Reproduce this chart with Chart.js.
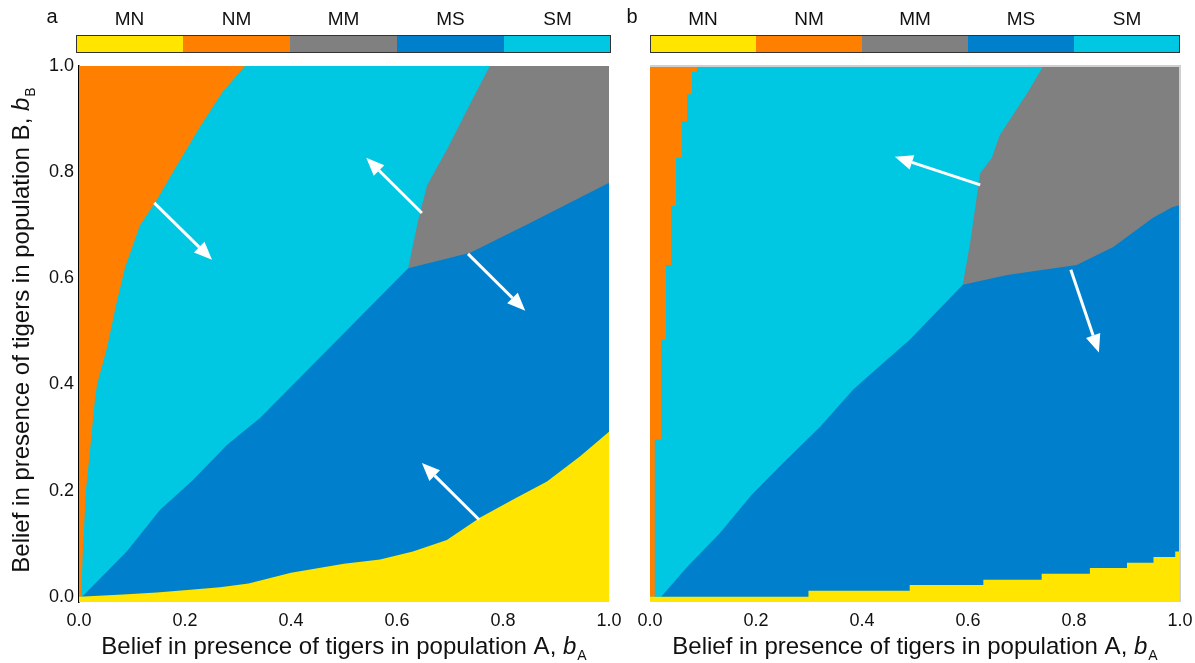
<!DOCTYPE html>
<html>
<head>
<meta charset="utf-8">
<script src="https://cdn.jsdelivr.net/npm/chart.js@4.4.1/dist/chart.umd.min.js"></script>
<style>
html, body { margin: 0; padding: 0; background: #fff; }
#wrap { position: relative; width: 1195px; height: 663px; }
#boxA { position: absolute; left: 0; top: 0; width: 636px; height: 663px; z-index: 2; }
#boxB { position: absolute; left: 620px; top: 0; width: 575px; height: 663px; z-index: 1; }
</style>
</head>
<body>
<div id="wrap">
  <div id="boxA"><canvas id="chartA"></canvas></div>
  <div id="boxB"><canvas id="chartB"></canvas></div>
</div>
<script>
const fontFamily = "'Liberation Sans', Arial, Helvetica, sans-serif";

// axis ticks (both axes, both panels)
const tickValues = [0, 0.2, 0.4, 0.6, 0.8, 1.0];
const tickLabels = ['0.0', '0.2', '0.4', '0.6', '0.8', '1.0'];

// policies shown in the colour bar
const policyNames = ['MN', 'NM', 'MM', 'MS', 'SM'];
const policyColors = ['#FFE500', '#FF8000', '#808080', '#0080CC', '#00C8E2'];

// panel a - region boundaries, x = b_A, y = b_B
// top edge of MN (yellow)
const aMnX = [0, 0.083, 0.147, 0.21, 0.266, 0.32, 0.4, 0.5, 0.568, 0.63, 0.694, 0.757, 0.819, 0.883, 0.945, 1.0];
const aMnY = [0, 0.004, 0.008, 0.013, 0.018, 0.025, 0.045, 0.062, 0.07, 0.085, 0.107, 0.149, 0.183, 0.217, 0.264, 0.311];
// lower edge of NM (orange)
const aNmX = [0, 0.004, 0.007, 0.013, 0.019, 0.03, 0.034, 0.053, 0.07, 0.087, 0.115, 0.147, 0.177, 0.228, 0.27, 0.313];
const aNmY = [0, 0, 0.079, 0.2, 0.258, 0.371, 0.4, 0.47, 0.55, 0.621, 0.7, 0.748, 0.8, 0.885, 0.95, 1.0];
// top edge of MS (dark blue)
const aMsX = [0, 0.006, 0.09, 0.153, 0.215, 0.279, 0.342, 0.621, 0.738, 0.851, 1.0];
const aMsY = [0, 0, 0.085, 0.164, 0.22, 0.286, 0.337, 0.619, 0.648, 0.704, 0.78];
// left edge of MM (grey)
const aMmX = [0.621, 0.64, 0.657, 0.694, 0.732, 0.775, 1.0];
const aMmY = [0.619, 0.71, 0.776, 0.842, 0.917, 1.0, 1.0];
// arrows [fromX, fromY, toX, toY]
const aArrows = [
  [0.142, 0.742, 0.251, 0.635],
  [0.647, 0.723, 0.542, 0.827],
  [0.734, 0.646, 0.842, 0.539],
  [0.755, 0.145, 0.647, 0.252]
];

// panel b - region boundaries
const bMnX = [0, 0.299, 0.49, 0.629, 0.739, 0.83, 0.90, 0.95, 0.991, 1.0];
const bMnY = [0, 0.011, 0.022, 0.032, 0.043, 0.054, 0.064, 0.075, 0.085, 0.085];
const bNmX = [0, 0.009, 0.021, 0.030, 0.040, 0.049, 0.060, 0.070, 0.079, 0.089];
const bNmY = [0, 0.296, 0.484, 0.625, 0.736, 0.827, 0.896, 0.947, 0.989, 1.0];
const bMsX = [0, 0.021, 0.07, 0.132, 0.192, 0.251, 0.321, 0.383, 0.443, 0.49, 0.59, 0.674, 0.742, 0.805, 0.874, 0.949, 0.985, 1.0];
const bMsY = [0, 0, 0.056, 0.12, 0.192, 0.252, 0.32, 0.39, 0.443, 0.484, 0.588, 0.606, 0.616, 0.625, 0.659, 0.714, 0.734, 0.738];
const bMmX = [0.59, 0.604, 0.613, 0.623, 0.645, 0.66, 0.685, 0.713, 0.742, 1.0];
const bMmY = [0.588, 0.667, 0.729, 0.798, 0.827, 0.87, 0.908, 0.951, 1.0, 1.0];
const bArrows = [
  [0.623, 0.776, 0.462, 0.829],
  [0.794, 0.616, 0.847, 0.46]
];

// SM (cyan) fills the whole square underneath
const smX = [0, 1];
const smY = [1, 1];

function pts(xs, ys) {
  return xs.map((x, i) => ({ x: x, y: ys[i] }));
}

function regionSets(p) {
  const base = { borderWidth: 0, pointRadius: 0, tension: 0 };
  return [
    Object.assign({ label: 'MN', data: pts(p.mnX, p.mnY), backgroundColor: policyColors[0], fill: 'start', stepped: p.stepped }, base),
    Object.assign({ label: 'NM', data: pts(p.nmX, p.nmY), backgroundColor: policyColors[1], fill: 'end', stepped: p.stepped }, base),
    Object.assign({ label: 'MS', data: pts(p.msX, p.msY), backgroundColor: policyColors[3], fill: 'start' }, base),
    Object.assign({ label: 'MM', data: pts(p.mmX, p.mmY), backgroundColor: policyColors[2], fill: 'start' }, base),
    Object.assign({ label: 'SM', data: pts(smX, smY), backgroundColor: policyColors[4], fill: 'start' }, base)
  ];
}

function drawArrow(ctx, x0, y0, x1, y1) {
  const ang = Math.atan2(y1 - y0, x1 - x0);
  const headLen = 18, headHalf = 7.5;
  const bx = x1 - headLen * Math.cos(ang), by = y1 - headLen * Math.sin(ang);
  ctx.strokeStyle = '#fff';
  ctx.fillStyle = '#fff';
  ctx.lineWidth = 3;
  ctx.beginPath();
  ctx.moveTo(x0, y0);
  ctx.lineTo(bx, by);
  ctx.stroke();
  ctx.beginPath();
  ctx.moveTo(x1, y1);
  ctx.lineTo(bx + headHalf * Math.sin(ang), by - headHalf * Math.cos(ang));
  ctx.lineTo(bx - headHalf * Math.sin(ang), by + headHalf * Math.cos(ang));
  ctx.closePath();
  ctx.fill();
}

function drawColorbar(ctx, left, right) {
  const top = 35, h = 18;
  const w = (right - left) / policyNames.length;
  ctx.textAlign = 'center';
  ctx.textBaseline = 'middle';
  ctx.font = '19px ' + fontFamily;
  policyNames.forEach((name, i) => {
    ctx.fillStyle = policyColors[i];
    ctx.fillRect(left + i * w, top, w, h);
    ctx.fillStyle = '#111';
    ctx.fillText(name, left + (i + 0.5) * w, 20);
  });
  ctx.strokeStyle = '#333';
  ctx.lineWidth = 1;
  ctx.strokeRect(left + 0.5, top + 0.5, right - left - 1, h - 1);
}

function drawBelief(ctx, cx, cy, pop, rotated) {
  ctx.save();
  ctx.translate(cx, cy);
  if (rotated) ctx.rotate(-Math.PI / 2);
  const main = 'Belief in presence of tigers in population ' + pop + ', ';
  const fMain = '24px ' + fontFamily;
  const fIt = 'italic 24px ' + fontFamily;
  const fSub = '14px ' + fontFamily;
  ctx.font = fMain; const w1 = ctx.measureText(main).width;
  ctx.font = fIt; const w2 = ctx.measureText('b').width;
  ctx.font = fSub; const w3 = ctx.measureText(pop).width;
  let x = -(w1 + w2 + w3 + 1) / 2;
  ctx.fillStyle = '#111';
  ctx.textAlign = 'left';
  ctx.textBaseline = 'middle';
  ctx.font = fMain; ctx.fillText(main, x, 0); x += w1;
  ctx.font = fIt; ctx.fillText('b', x, 0); x += w2 + 1;
  ctx.font = fSub; ctx.fillText(pop, x, 9);
  ctx.restore();
}

function makePanel(canvasId, p) {
  const decor = {
    id: 'decor_' + canvasId,
    afterDatasetsDraw(chart) {
      const ctx = chart.ctx;
      const xs = chart.scales.x, ys = chart.scales.y;
      ctx.save();
      p.arrows.forEach(a => {
        drawArrow(ctx, xs.getPixelForValue(a[0]), ys.getPixelForValue(a[1]),
                       xs.getPixelForValue(a[2]), ys.getPixelForValue(a[3]));
      });
      ctx.restore();
    },
    afterDraw(chart) {
      const ctx = chart.ctx;
      const ca = chart.chartArea;
      ctx.save();
      if (p.frame) {
        ctx.strokeStyle = '#cfcfcf';
        ctx.lineWidth = 2;
        ctx.beginPath();
        ctx.moveTo(ca.left, ca.top);
        ctx.lineTo(ca.right, ca.top);
        ctx.lineTo(ca.right, ca.bottom);
        ctx.stroke();
      }
      drawColorbar(ctx, ca.left + p.cbPad[0], ca.right + p.cbPad[1]);
      ctx.fillStyle = '#111';
      ctx.font = '20px ' + fontFamily;
      ctx.textAlign = 'center';
      ctx.textBaseline = 'middle';
      ctx.fillText(p.letter, ca.left + p.letterDx, 17);
      drawBelief(ctx, (ca.left + ca.right) / 2, 647, 'A', false);
      if (p.yTitle) drawBelief(ctx, 22, (ca.top + ca.bottom) / 2 - 4, 'B', true);
      ctx.restore();
    }
  };

  const tickFont = { family: fontFamily, size: 18 };
  return new Chart(document.getElementById(canvasId), {
    type: 'line',
    data: { datasets: regionSets(p) },
    options: {
      responsive: true,
      maintainAspectRatio: false,
      animation: false,
      layout: { padding: p.padding },
      plugins: { legend: { display: false }, tooltip: { enabled: false } },
      scales: {
        x: {
          type: 'linear', min: 0, max: 1,
          grid: { display: false, drawTicks: false },
          border: { display: false },
          afterBuildTicks: s => { s.ticks = tickValues.map(v => ({ value: v })); },
          afterFit: s => { s.height = 61; s.paddingLeft = 0; s.paddingRight = 0; },
          ticks: {
            padding: 8, autoSkip: false, maxRotation: 0, color: '#111', font: tickFont,
            callback: v => tickLabels[tickValues.indexOf(v)]
          }
        },
        y: {
          type: 'linear', min: -0.01, max: 1,
          display: p.yAxis,
          grid: { display: false, drawTicks: false },
          border: { display: true, color: '#000', width: 1.5 },
          afterBuildTicks: s => { s.ticks = tickValues.map(v => ({ value: v })); },
          afterFit: s => { s.width = p.yAxis ? 79 : 0; s.paddingTop = 0; s.paddingBottom = 0; },
          ticks: {
            padding: 5, color: '#111', font: tickFont,
            callback: v => tickLabels[tickValues.indexOf(v)]
          }
        }
      }
    },
    plugins: [decor]
  });
}

makePanel('chartA', {
  mnX: aMnX, mnY: aMnY, nmX: aNmX, nmY: aNmY, msX: aMsX, msY: aMsY, mmX: aMmX, mmY: aMmY,
  stepped: false, arrows: aArrows, letter: 'a', letterDx: -27, cbPad: [-3, 2],
  yAxis: true, yTitle: true, frame: false,
  padding: { top: 66, right: 27, left: 0, bottom: 0 }
});

makePanel('chartB', {
  mnX: bMnX, mnY: bMnY, nmX: bNmX, nmY: bNmY, msX: bMsX, msY: bMsY, mmX: bMmX, mmY: bMmY,
  stepped: true, arrows: bArrows, letter: 'b', letterDx: -18, cbPad: [0, 0],
  yAxis: false, yTitle: false, frame: true,
  padding: { top: 66, right: 15, left: 30, bottom: 0 }
});
</script>
</body>
</html>
